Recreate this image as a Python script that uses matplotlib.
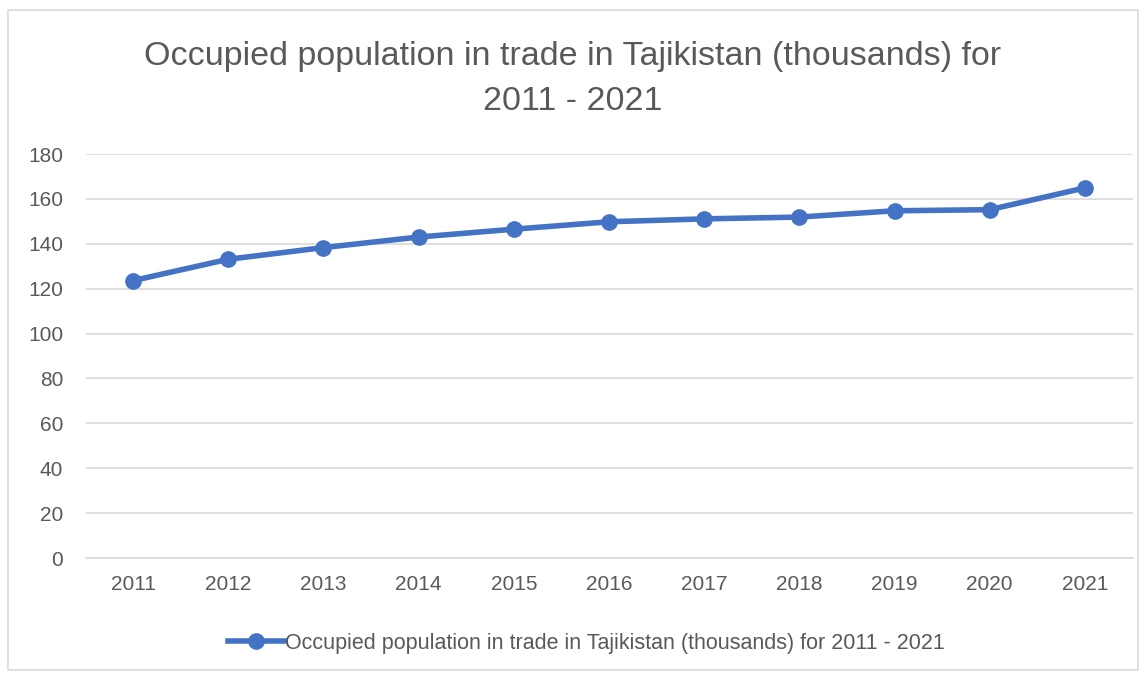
import matplotlib.pyplot as plt
from matplotlib.patches import Rectangle

years = ["2011", "2012", "2013", "2014", "2015", "2016", "2017", "2018", "2019", "2020", "2021"]
values = [123.6, 133.1, 138.3, 143.0, 146.5, 149.8, 151.1, 151.9, 154.7, 155.2, 164.9]
yticks = [0, 20, 40, 60, 80, 100, 120, 140, 160, 180]

label = "Occupied population in trade in Tajikistan (thousands) for 2011 - 2021"
blue = "#4472C4"
grey = "#595959"

plt.rcParams['font.family'] = ['Liberation Sans', 'DejaVu Sans']

fig = plt.figure(figsize=(11.45, 6.75), dpi=100)
fig.patches.append(Rectangle((8 / 1145, 5 / 675), 1130 / 1145, 660 / 675, transform=fig.transFigure,
                             fill=False, edgecolor="#d9d9d9", linewidth=1.2))

ax = fig.add_axes([85.5 / 1145, 1 - 558 / 675, 1047 / 1145, 404 / 675])
x = list(range(len(years)))
ax.plot(x, values, color=blue, linewidth=4, marker="o", markersize=11, label=label, clip_on=False)

ax.set_xlim(-0.5, len(years) - 0.5)
ax.set_ylim(0, 180)
ax.set_yticks(yticks)
ax.set_xticks(x)
ax.set_xticklabels(years)
ax.grid(axis="y", color="#d9d9d9", linewidth=1.2)
ax.set_axisbelow(True)
for s in ["top", "right", "left"]:
    ax.spines[s].set_visible(False)
ax.spines["bottom"].set_color("#d9d9d9")
ax.spines["bottom"].set_linewidth(1.2)
ax.tick_params(axis="both", length=0, labelsize=15, colors=grey, pad=12)
ax.tick_params(axis="y", pad=16)

fig.text(0.5, 1 - 56 / 675, "Occupied population in trade in Tajikistan (thousands) for", ha="center", va="center",
         fontsize=24.5, color=grey)
fig.text(0.5, 1 - 101 / 675, "2011 - 2021", ha="center", va="center", fontsize=24.5, color=grey)

leg = fig.legend(loc="center", bbox_to_anchor=(586 / 1145, 1 - 643 / 675), frameon=False,
                 fontsize=15.5, handlelength=2.6, handletextpad=0.05)
for t in leg.get_texts():
    t.set_color(grey)

fig.savefig("out.png", dpi=100)
